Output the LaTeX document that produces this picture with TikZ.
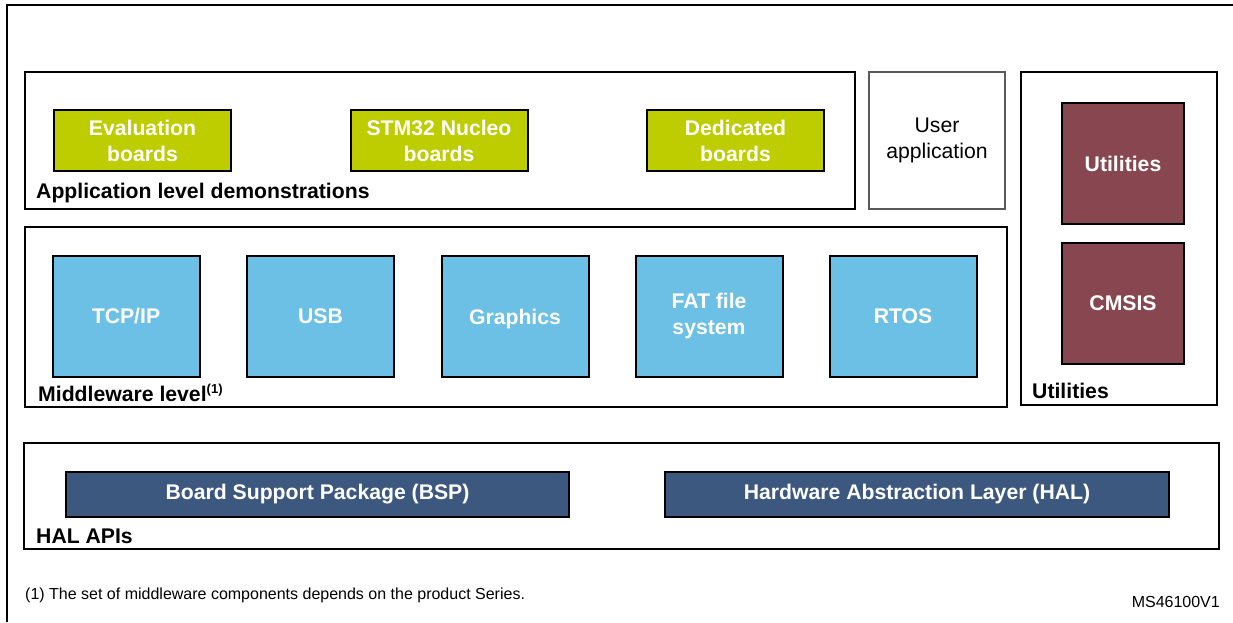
\documentclass[tikz,border=0pt]{standalone}
\usepackage{fontspec}
\setmainfont{Liberation Sans}
\definecolor{stgreen}{RGB}{190,205,0}
\definecolor{stblue}{RGB}{108,192,229}
\definecolor{stmaroon}{RGB}{136,71,80}
\definecolor{stnavy}{RGB}{61,88,126}
\definecolor{stgray}{RGB}{90,90,90}
\tikzset{
  big/.style={font=\fontsize{21.2}{26}\selectfont},
  frame/.style={draw=black, line width=2pt, fill=white, inner sep=0pt},
  greybox/.style={draw=stgray, line width=2pt, fill=white, inner sep=0pt, big, align=center},
  greenbox/.style={draw=black, line width=2pt, fill=stgreen, text=white, inner sep=0pt, font=\fontsize{21.2}{26}\selectfont\bfseries, align=center, minimum width=177pt, minimum height=61pt},
  bluebox/.style={draw=black, line width=2pt, fill=stblue, text=white, inner sep=0pt, font=\fontsize{21.2}{26}\selectfont\bfseries, align=center, minimum width=147pt, minimum height=121pt},
  redbox/.style={draw=black, line width=2pt, fill=stmaroon, text=white, inner sep=0pt, font=\fontsize{21.2}{26}\selectfont\bfseries, align=center, minimum width=122pt, minimum height=121pt},
  navybox/.style={draw=black, line width=2pt, fill=stnavy, text=white, inner sep=0pt, font=\fontsize{21.2}{26}\selectfont\bfseries, align=center, minimum height=45pt},
  lbl/.style={anchor=base west, inner sep=0pt, font=\fontsize{21.2}{26}\selectfont\bfseries},
  note/.style={inner sep=0pt, font=\fontsize{16}{18}\selectfont}
}
\begin{document}
\begin{tikzpicture}[x=1pt,y=-1pt]
\useasboundingbox (0,0) rectangle (1233,622);
% outer frame (partial)
\coordinate (ftr) at (1233,5);
\coordinate (ftl) at (7,5);
\coordinate (fbl) at (7,622);
\draw[line width=2.5pt] (ftr) -- (ftl) -- (fbl);

% application level
\node[frame, minimum width=830pt, minimum height=137pt] (app) at (440,140.5) {};
\node[greenbox] (eval) at (142.5,140.5) {Evaluation\\boards};
\node[greenbox] (nucleo) at (439,140.5) {STM32 Nucleo\\boards};
\node[greenbox] (dedic) at (735.5,140.5) {Dedicated\\boards};
\node[lbl] (applbl) at (36,198) {Application level demonstrations};

% user application
\node[greybox, minimum width=136pt, minimum height=137pt] (user) at (937,140.5) {User\\application};

% utilities
\node[frame, minimum width=196pt, minimum height=333pt] (utilframe) at (1119,238.5) {};
\node[redbox] (util) at (1123,163.5) {Utilities};
\node[redbox] (cmsis) at (1123,303.5) {CMSIS};
\node[lbl] (utillbl) at (1032,398) {Utilities};

% middleware
\node[frame, minimum width=982pt, minimum height=180pt] (mw) at (516,317) {};
\node[bluebox] (tcp) at (126,316.5) {TCP/IP};
\node[bluebox] (usb) at (320.5,316.5) {USB};
\node[bluebox, text depth=0pt] (gfx) at (515,316.5) {Graphics};
\node[bluebox] (fat) at (709,316.5) {FAT file\\system};
\node[bluebox] (rtos) at (903,316.5) {RTOS};
\node[lbl] (mwlbl) at (38,401) {Middleware level\textsuperscript{\fontsize{13}{13}\selectfont(1)}};

% HAL APIs
\node[frame, minimum width=1195pt, minimum height=106pt] (halapi) at (621.5,496) {};
\node[navybox, minimum width=503pt] (bsp) at (317.5,494.5) {Board Support Package (BSP)};
\node[navybox, minimum width=504pt] (hal) at (917,494.5) {Hardware Abstraction Layer (HAL)};
\node[lbl] (hallbl) at (36,543) {HAL APIs};

% notes
\node[note, anchor=base west] (fn) at (25,599) {(1) The set of middleware components depends on the product Series.};
\node[note, anchor=base east] (ms) at (1220,607) {MS46100V1};
\end{tikzpicture}
\end{document}
